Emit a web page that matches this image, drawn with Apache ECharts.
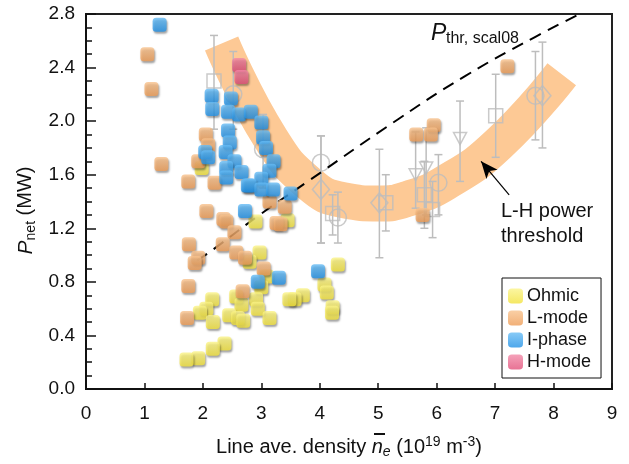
<!DOCTYPE html>
<html>
<head>
<meta charset="utf-8">
<script src="https://cdn.jsdelivr.net/npm/echarts@6/dist/echarts.min.js"></script>
<style>
  html, body { margin: 0; padding: 0; background: #fff; }
  #chart { width: 629px; height: 464px; }
</style>
</head>
<body>
<div id="chart"></div>
<script>
// ---- data ----
const seriesNames = ['Ohmic', 'L-mode', 'I-phase', 'H-mode'];

const ohmic = [
  [1.98, 1.65], [2.90, 1.25], [3.45, 1.26], [2.97, 1.02], [2.80, 0.95], [3.09, 0.84],
  [3.00, 0.76], [2.16, 0.67], [2.57, 0.69], [2.91, 0.67], [2.66, 0.63], [2.06, 0.60],
  [2.94, 0.60], [1.95, 0.57], [2.45, 0.55], [2.60, 0.53], [2.69, 0.51], [2.17, 0.50],
  [3.14, 0.53], [2.37, 0.34], [2.17, 0.30], [1.92, 0.23], [1.72, 0.22], [4.31, 0.93],
  [4.08, 0.78], [4.12, 0.72], [3.71, 0.70], [3.57, 0.67], [3.48, 0.67], [4.22, 0.61],
  [4.21, 0.57]
];

const lmode = [
  [1.05, 2.50], [1.12, 2.24], [1.29, 1.68], [1.75, 1.55], [2.20, 1.54], [2.05, 1.90],
  [2.09, 1.82], [1.92, 1.70], [2.06, 1.33], [2.35, 1.27], [2.40, 1.25], [2.54, 1.17],
  [3.26, 1.24], [3.40, 1.36], [3.33, 1.23], [3.14, 1.40], [1.76, 1.08], [2.34, 1.08],
  [1.92, 0.98], [1.86, 0.94], [2.57, 1.02], [2.72, 0.98], [3.04, 0.90], [1.75, 0.77],
  [2.68, 0.73], [1.73, 0.53], [5.76, 1.30], [7.21, 2.41], [5.65, 1.90], [5.95, 1.97],
  [5.90, 1.90]
];

const iphase = [
  [1.26, 2.72], [2.15, 2.19], [2.48, 2.17], [2.16, 2.09], [2.43, 2.07], [2.62, 2.05],
  [2.82, 2.07], [3.00, 1.99], [3.03, 1.88], [3.08, 1.80], [2.43, 1.93], [2.46, 1.84],
  [2.04, 1.77], [2.09, 1.73], [2.39, 1.77], [2.54, 1.70], [3.21, 1.70], [2.40, 1.65],
  [2.66, 1.62], [2.40, 1.58], [3.14, 1.63], [3.00, 1.57], [2.77, 1.52], [2.80, 1.52],
  [3.00, 1.49], [3.20, 1.49], [3.50, 1.46], [2.72, 1.33], [3.30, 0.83], [2.94, 0.80],
  [3.97, 0.88]
];

const hmode = [[2.62, 2.42], [2.66, 2.33]];

// reference threshold points: [density, P, errLow, errHigh]
const refCircles = [
  [2.52, 2.20, 1.94, 2.52], [3.03, 1.79, 1.50, 2.05], [4.02, 1.69, 1.09, 1.89],
  [4.31, 1.28, 1.09, 1.47], [6.03, 1.54, 1.30, 1.75], [7.69, 2.19, 1.86, 2.52]
];
const refSquares = [
  [2.19, 2.30, 1.94, 2.64], [4.22, 1.31, 1.15, 1.45], [5.13, 1.39, 1.18, 1.60],
  [5.79, 1.45, 1.20, 1.70], [5.93, 1.34, 1.13, 1.55], [7.01, 2.04, 1.73, 2.35]
];
const refDiamonds = [
  [4.02, 1.49, 1.09, 1.89], [5.02, 1.39, 0.98, 1.79], [7.81, 2.19, 1.80, 2.59]
];
const refTriangles = [
  [5.64, 1.60, 1.35, 1.92], [5.82, 1.65, 1.30, 1.95], [6.40, 1.87, 1.55, 2.15]
];

// P_thr scaling curve (dashed) and L-H threshold band centre line
const scalingCurve = [
  [1.90, 0.96], [2.17, 1.04], [2.97, 1.30], [3.83, 1.56], [5.36, 2.02],
  [6.50, 2.34], [7.69, 2.63], [8.45, 2.80]
];
const bandCentre = [
  [2.32, 2.58], [3.16, 1.87], [3.83, 1.53], [4.40, 1.41], [5.02, 1.385],
  [5.50, 1.42], [6.15, 1.54], [7.06, 1.83], [8.14, 2.35]
];
const arrowFromTo = [[7.24, 1.45], [6.76, 1.70]];

const xTicks = [0, 9, 1];
const yTicks = [0, 2.8, 0.4];

const colors = {
  'Ohmic': ['#fbf48a', '#f2e23c'],
  'L-mode': ['#f8c38f', '#ee9c55'],
  'I-phase': ['#69bdf5', '#2191e6'],
  'H-mode': ['#f28aa8', '#e2507a']
};

const chart = echarts.init(document.getElementById('chart'));
const FONT = 'Liberation Sans, Arial, Helvetica, sans-serif';
const GRAY = '#bdbdbd';

function pointSeries(name, data) {
  return {
    name: name,
    type: 'scatter',
    data: data,
    symbol: 'roundRect',
    symbolSize: 14,
    z: 10,
    itemStyle: {
      color: new echarts.graphic.LinearGradient(0, 0, 0, 1, [
        { offset: 0, color: colors[name][0] },
        { offset: 1, color: colors[name][1] }
      ]),
      shadowColor: 'rgba(0,0,0,0.45)',
      shadowBlur: 2,
      shadowOffsetX: 1,
      shadowOffsetY: 2
    }
  };
}

function refSeries(data, symbol, size, rotate) {
  return {
    type: 'scatter',
    data: data.map(d => [d[0], d[1]]),
    symbol: symbol,
    symbolSize: size,
    symbolRotate: rotate || 0,
    z: 4,
    silent: true,
    itemStyle: { color: 'rgba(0,0,0,0)', borderColor: GRAY, borderWidth: 1.5 }
  };
}

const allRefs = refCircles.concat(refSquares, refDiamonds, refTriangles);

const option = {
  animation: false,
  textStyle: { fontFamily: FONT },
  grid: { left: 86, right: 17, top: 14, bottom: 74, show: true, borderColor: '#222', borderWidth: 2 },
  xAxis: {
    type: 'value',
    min: xTicks[0], max: xTicks[1], interval: xTicks[2],
    axisLine: { lineStyle: { color: '#111', width: 2 } },
    axisTick: { inside: true, length: 6, lineStyle: { color: '#111', width: 1.5 } },
    axisLabel: { color: '#111', fontSize: 19, margin: 15, fontFamily: FONT },
    splitLine: { show: false },
    name: '{t|Line ave. density }{n|n}{s|e}{t| (10}{p|19}{t| m}{p|-3}{t|)}',
    nameLocation: 'middle',
    nameGap: 46,
    nameTextStyle: {
      rich: {
        t: { fontSize: 20, lineHeight: 24, color: '#111', fontFamily: FONT },
        n: { fontSize: 20, lineHeight: 24, fontStyle: 'italic', color: '#111', fontFamily: FONT },
        s: { fontSize: 14, lineHeight: 14, fontStyle: 'italic', verticalAlign: 'bottom', color: '#111', fontFamily: FONT },
        p: { fontSize: 14, lineHeight: 13, verticalAlign: 'top', color: '#111', fontFamily: FONT }
      }
    }
  },
  yAxis: {
    type: 'value',
    min: yTicks[0], max: yTicks[1], interval: yTicks[2],
    axisLine: { lineStyle: { color: '#111', width: 2 } },
    axisTick: { inside: true, length: 10, lineStyle: { color: '#111', width: 1.5 } },
    minorTick: { show: true, splitNumber: 4, length: 6, lineStyle: { color: '#111', width: 1.5 } },
    axisLabel: { color: '#111', fontSize: 19, margin: 11, fontFamily: FONT, formatter: v => v.toFixed(1) },
    splitLine: { show: false },
    name: '{i|P}{s|net}{t| (MW)}',
    nameLocation: 'middle',
    nameRotate: 90,
    nameGap: 46,
    nameTextStyle: {
      padding: [0, 18, 0, 0],
      rich: {
        t: { fontSize: 20, lineHeight: 24, color: '#111', fontFamily: FONT },
        i: { fontSize: 21, lineHeight: 24, fontStyle: 'italic', color: '#111', fontFamily: FONT },
        s: { fontSize: 14, lineHeight: 14, verticalAlign: 'bottom', color: '#111', fontFamily: FONT }
      }
    }
  },
  legend: {
    data: seriesNames,
    orient: 'vertical',
    left: 502,
    top: 278,
    itemWidth: 15,
    itemHeight: 15,
    itemGap: 4,
    padding: [9, 10, 7, 6],
    borderColor: '#111',
    borderWidth: 1,
    backgroundColor: '#fff',
    textStyle: { fontSize: 18, color: '#111', fontFamily: FONT, padding: [0, 0, 0, -1] }
  },
  series: [
    {
      type: 'line',
      data: bandCentre,
      smooth: 0.5,
      symbol: 'none',
      silent: true,
      z: 1,
      lineStyle: { color: '#fdc995', width: 36, cap: 'butt' },
      markLine: {
        silent: true,
        symbol: ['none', 'arrow'],
        symbolSize: [11, 17],
        label: { show: false },
        lineStyle: { color: '#000', width: 1.2, type: 'solid' },
        data: [[{ coord: arrowFromTo[0] }, { coord: arrowFromTo[1] }]]
      }
    },
    {
      type: 'custom',
      data: allRefs,
      z: 3,
      silent: true,
      renderItem: function (params, api) {
        const x = api.value(0);
        const lo = api.coord([x, api.value(2)]);
        const hi = api.coord([x, api.value(3)]);
        const w = 4;
        const style = { stroke: GRAY, lineWidth: 1.5 };
        return {
          type: 'group',
          children: [
            { type: 'line', shape: { x1: lo[0], y1: lo[1], x2: hi[0], y2: hi[1] }, style: style },
            { type: 'line', shape: { x1: lo[0] - w, y1: lo[1], x2: lo[0] + w, y2: lo[1] }, style: style },
            { type: 'line', shape: { x1: hi[0] - w, y1: hi[1], x2: hi[0] + w, y2: hi[1] }, style: style }
          ]
        };
      },
      encode: { x: 0, y: 1 }
    },
    refSeries(refCircles, 'circle', 17),
    refSeries(refSquares, 'rect', 14),
    refSeries(refDiamonds, 'diamond', [17, 20]),
    refSeries(refTriangles, 'triangle', [13, 12], 180),
    {
      type: 'line',
      data: scalingCurve,
      smooth: true,
      symbol: 'none',
      silent: true,
      z: 5,
      lineStyle: { color: '#000', width: 2, type: [12, 8] }
    },
    pointSeries('Ohmic', ohmic),
    pointSeries('L-mode', lmode),
    pointSeries('I-phase', iphase),
    pointSeries('H-mode', hmode)
  ],
  graphic: [
    { type: 'text', left: 431, top: 22, style: { text: 'P', font: 'italic 23px ' + FONT, fill: '#111' } },
    { type: 'text', left: 446, top: 31, style: { text: 'thr, scal08', font: '16px ' + FONT, fill: '#111' } },
    { type: 'text', left: 501, top: 199, style: { text: 'L-H power\nthreshold', font: '20px ' + FONT, fill: '#111', lineHeight: 25 } },
    // overline on the density symbol
    { type: 'rect', shape: { x: 374, y: 433, width: 11, height: 2 }, style: { fill: '#111' } }
  ]
};

chart.setOption(option);
</script>
</body>
</html>
